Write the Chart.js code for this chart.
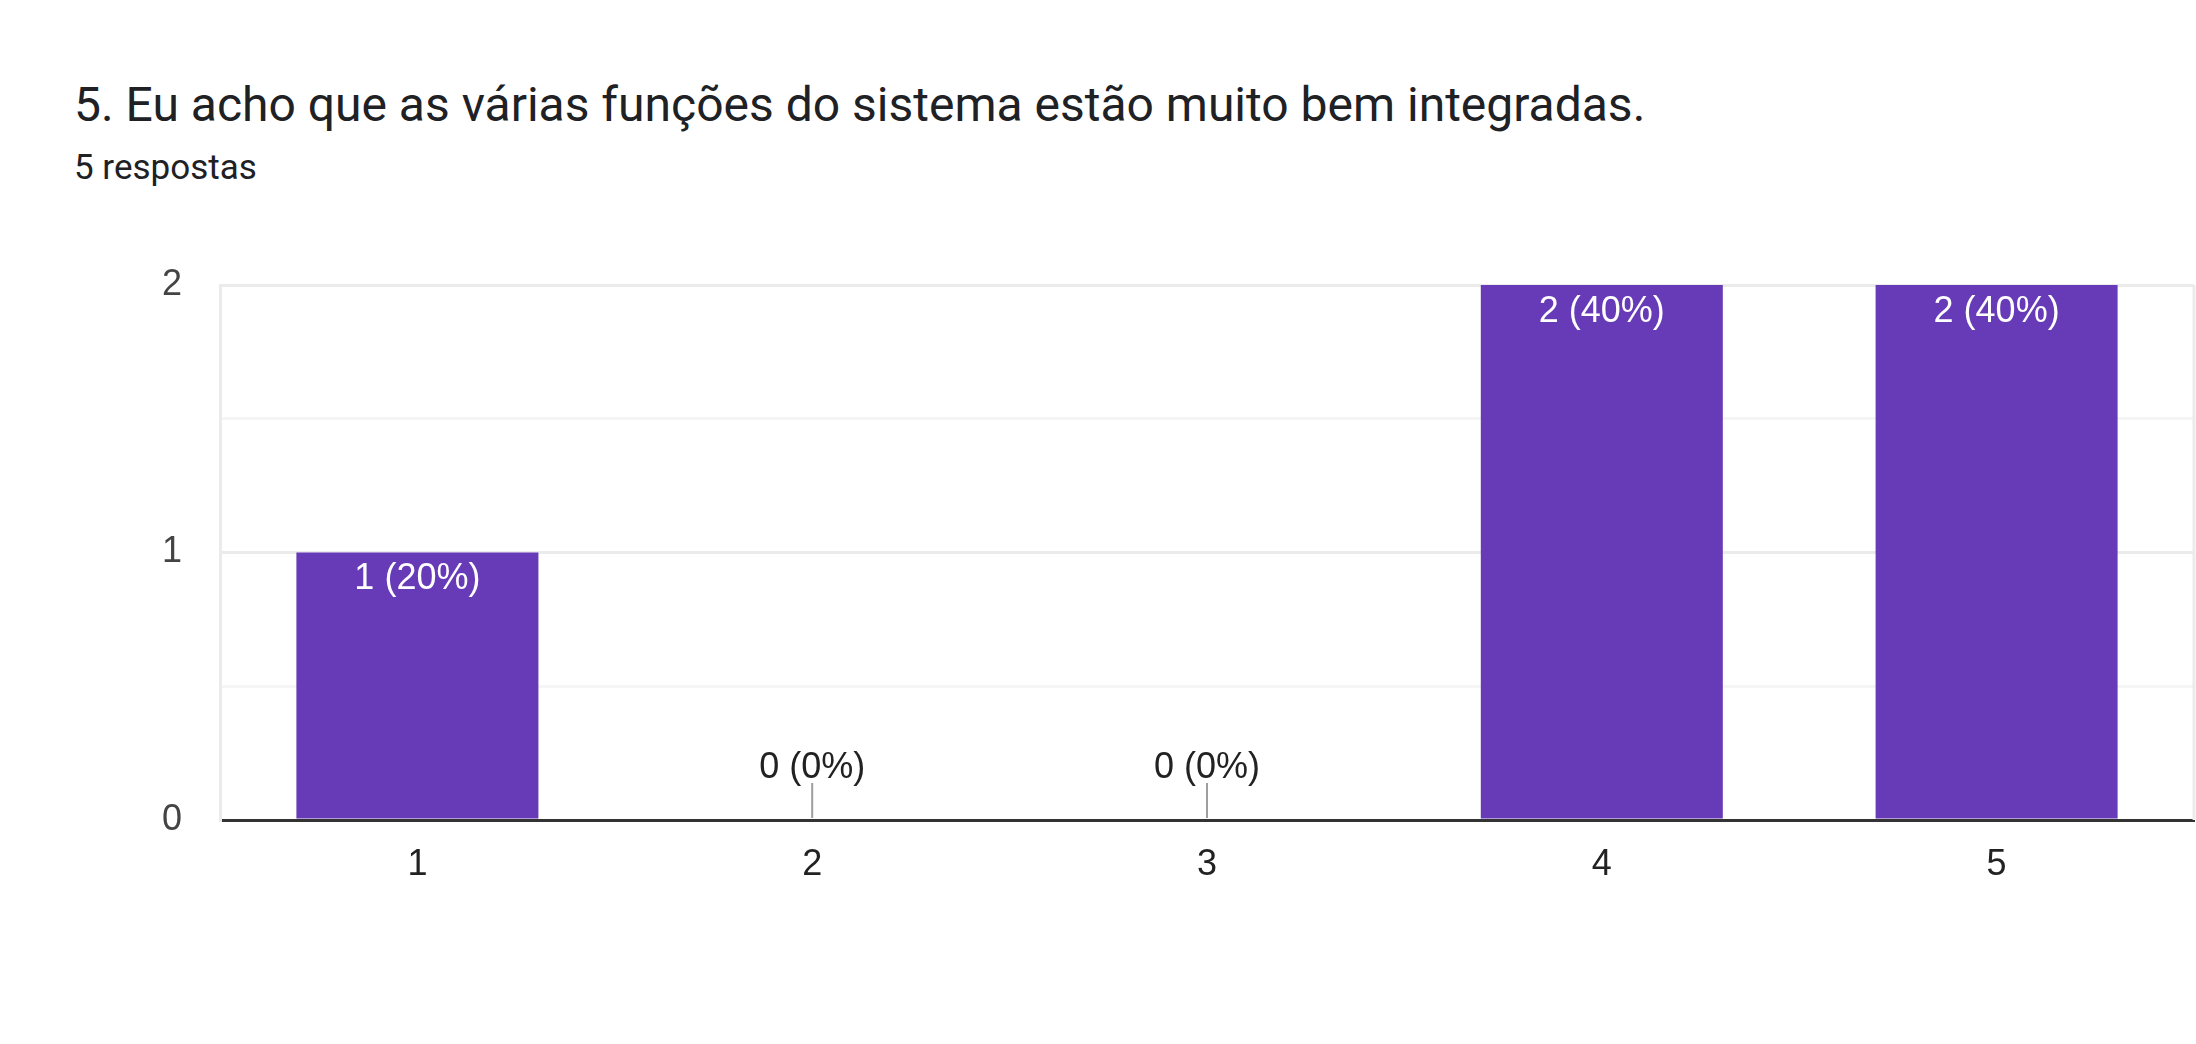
<!DOCTYPE html>
<html>
<head>
<meta charset="utf-8">
<script src="https://cdn.jsdelivr.net/npm/chart.js@4.4.1/dist/chart.umd.min.js"></script>
<style>
  html, body { margin: 0; padding: 0; background: #fff; }
  #wrap { position: relative; width: 2196px; height: 1044px; overflow: hidden; }
  #title { position: absolute; left: 74px; top: 77px; font-family: Roboto, sans-serif; font-size: 48px; line-height: 56px; color: #202124; white-space: nowrap; }
  #sub { position: absolute; left: 74px; top: 147px; font-family: Roboto, sans-serif; font-size: 35px; line-height: 42px; color: #202124; white-space: nowrap; }
  canvas { position: absolute; left: 0; top: 0; }
</style>
</head>
<body>
<div id="wrap">
  <div id="title">5. Eu acho que as várias funções do sistema estão muito bem integradas.</div>
  <div id="sub">5 respostas</div>
  <canvas id="chart" width="2196" height="1044"></canvas>
</div>
<script>
const categories = ["1", "2", "3", "4", "5"];
const counts = [1, 0, 0, 2, 2];
const yTicks = [0, 1, 2];

const total = counts.reduce((a, b) => a + b, 0);
const barColor = "#673ab7";
const labelFont = "'Liberation Sans', Arial, sans-serif";

// labels on top of / inside the bars
const barLabels = {
  id: "barLabels",
  afterDatasetsDraw(chart) {
    const ctx = chart.ctx;
    const meta = chart.getDatasetMeta(0);
    const zeroY = chart.scales.y.getPixelForValue(0);
    ctx.save();
    ctx.font = "36px " + labelFont;
    ctx.textAlign = "center";
    meta.data.forEach((bar, i) => {
      const v = counts[i];
      const txt = v + " (" + Math.round(v / total * 100) + "%)";
      if (v > 0) {
        ctx.fillStyle = "#ffffff";
        ctx.textBaseline = "top";
        ctx.fillText(txt, bar.x, bar.y + 9);
      } else {
        ctx.strokeStyle = "#9e9e9e";
        ctx.lineWidth = 2;
        ctx.beginPath();
        ctx.moveTo(bar.x, zeroY - 2);
        ctx.lineTo(bar.x, zeroY - 37);
        ctx.stroke();
        ctx.fillStyle = "#222222";
        ctx.textBaseline = "alphabetic";
        ctx.fillText(txt, bar.x, zeroY - 42);
      }
    });
    ctx.restore();
  }
};

// right edge of the plot frame
const frameRight = {
  id: "frameRight",
  beforeDatasetsDraw(chart) {
    const { ctx, chartArea } = chart;
    ctx.save();
    ctx.strokeStyle = "#ebebeb";
    ctx.lineWidth = 3;
    ctx.beginPath();
    ctx.moveTo(chartArea.right, chartArea.top);
    ctx.lineTo(chartArea.right, chartArea.bottom);
    ctx.stroke();
    ctx.restore();
  }
};

new Chart(document.getElementById("chart"), {
  type: "bar",
  data: {
    labels: categories,
    datasets: [{
      data: counts,
      backgroundColor: barColor,
      borderWidth: 0,
      categoryPercentage: 1,
      barPercentage: 0.613
    }]
  },
  options: {
    responsive: false,
    animation: false,
    layout: { padding: { top: 285, right: 2, left: 0, bottom: 0 } },
    plugins: { legend: { display: false }, tooltip: { enabled: false } },
    scales: {
      x: {
        afterFit: s => { s.height = 224; },
        grid: { display: false, drawTicks: false },
        border: { color: "#333333", width: 3 },
        ticks: {
          padding: 23,
          color: "#222222",
          font: { family: labelFont, size: 36 }
        }
      },
      y: {
        min: 0,
        max: 2,
        afterFit: s => { s.width = 220; },
        afterBuildTicks: s => {
          const t = [];
          for (let v = yTicks[0]; v <= yTicks[yTicks.length - 1]; v += 0.5) t.push({ value: v });
          s.ticks = t;
        },
        grid: {
          drawTicks: false,
          lineWidth: 3,
          color: c => (c.tick && Number.isInteger(c.tick.value)) ? "#ebebeb" : "#f5f5f5"
        },
        border: { color: "#ebebeb", width: 3 },
        ticks: {
          padding: 38,
          color: "#444444",
          font: { family: labelFont, size: 36 },
          callback: v => yTicks.includes(v) ? String(v) : ""
        }
      }
    }
  },
  plugins: [frameRight, barLabels]
});
</script>
</body>
</html>
